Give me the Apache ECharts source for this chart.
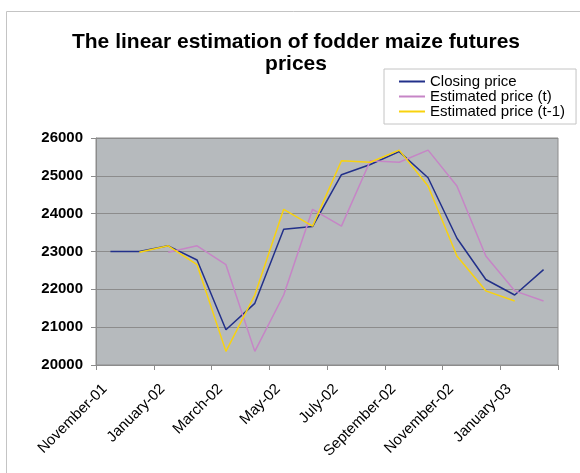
<!DOCTYPE html>
<html>
<head>
<meta charset="utf-8">
<script src="https://cdn.jsdelivr.net/npm/echarts@6/dist/echarts.min.js"></script>
<style>
html,body{margin:0;padding:0;background:#fff;}
#chart{width:580px;height:473px;}
</style>
</head>
<body>
<div id="chart"></div>
<script>
var categories = ['November-01','December-01','January-02','February-02','March-02','April-02','May-02','June-02','July-02','August-02','September-02','October-02','November-02','December-02','January-03','February-03'];
var closingPrice = [23000,23000,23150,22775,20930,21630,23590,23660,25030,25300,25640,24950,23350,22260,21850,22520];
var estimatedT = [null,null,22980,23150,22650,20360,21850,24115,23670,25400,25360,25680,24730,22880,21960,21690];
var estimatedT1 = [null,22980,23150,22650,20360,21850,24115,23670,25400,25360,25680,24730,22880,21960,21690,null];
var yTicks = {min:20000, max:26000, step:1000};
var titleLines = ['The linear estimation of fodder maize futures','prices'];

var chart = echarts.init(document.getElementById('chart'), null, {renderer:'canvas'});
var font = '"Liberation Sans", Arial, sans-serif';
chart.setOption({
  animation:false,
  backgroundColor:'#ffffff',
  graphic:[
    {type:'rect', shape:{x:6.5,y:11.5,width:600,height:500}, style:{fill:'none',stroke:'#c4c4c4',lineWidth:1}, z:-10},
    {type:'text', x:296, y:42, style:{text:titleLines[0], fontFamily:font, fontSize:21, fontWeight:'bold', fill:'#000', textAlign:'center', textVerticalAlign:'middle'}},
    {type:'text', x:296, y:64, style:{text:titleLines[1], fontFamily:font, fontSize:21, fontWeight:'bold', fill:'#000', textAlign:'center', textVerticalAlign:'middle'}}
  ],
  legend:{
    orient:'vertical', left:384, top:69,
    backgroundColor:'#ffffff', borderColor:'#c4c4c4', borderWidth:1, borderRadius:0,
    padding:[5,11,5,15], itemGap:0, itemWidth:26, itemHeight:2,
    icon:'rect',
    textStyle:{fontFamily:font, fontSize:15, color:'#000', lineHeight:14, padding:[0,0,0,0]},
    data:['Closing price','Estimated price (t)','Estimated price (t-1)']
  },
  grid:{left:96, right:22, top:138, bottom:108, show:true, backgroundColor:'#b6babd', borderColor:'#8c8c8c', borderWidth:1},
  xAxis:{
    type:'category', data:categories, boundaryGap:true,
    axisLine:{lineStyle:{color:'#8c8c8c', width:1}},
    axisTick:{show:true, interval:1, length:5, lineStyle:{color:'#8c8c8c'}},
    axisLabel:{interval:1, rotate:45, fontFamily:font, fontSize:15, color:'#000', margin:16, padding:[0,8,0,0]}
  },
  yAxis:{
    type:'value', min:yTicks.min, max:yTicks.max, interval:yTicks.step,
    axisLine:{show:true, lineStyle:{color:'#8c8c8c', width:1}},
    axisTick:{show:true, length:5, lineStyle:{color:'#8c8c8c'}},
    axisLabel:{fontFamily:font, fontSize:15, fontWeight:'bold', color:'#000', margin:13, formatter:function(v){return String(v);}},
    splitLine:{show:true, lineStyle:{color:'#8c8c8c', width:1}}
  },
  series:[
    {name:'Closing price', type:'line', data:closingPrice, symbol:'none', lineStyle:{color:'#22308a', width:1.5}, itemStyle:{color:'#22308a'}},
    {name:'Estimated price (t)', type:'line', data:estimatedT, symbol:'none', lineStyle:{color:'#c685c6', width:1.5}, itemStyle:{color:'#c685c6'}},
    {name:'Estimated price (t-1)', type:'line', data:estimatedT1, symbol:'none', lineStyle:{color:'#f8d20e', width:1.5}, itemStyle:{color:'#f8d20e'}}
  ]
});
</script>
</body>
</html>
